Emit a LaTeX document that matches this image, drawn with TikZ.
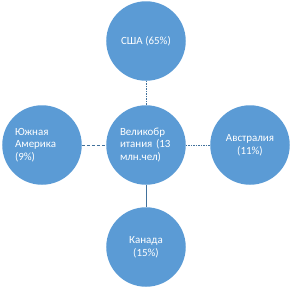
\documentclass[tikz,border=0pt]{standalone}
\usepackage{fontspec}
\setmainfont{Carlito}
\definecolor{circfill}{HTML}{5B9BD5}
\definecolor{linecol}{HTML}{41719C}
\begin{document}
\begin{tikzpicture}[x=1bp,y=-1bp,
  bubble/.style={circle,fill=circfill,draw=none,minimum size=79.5bp,inner sep=0pt,
    text=white,font=\fontsize{11}{12.8}\selectfont},
  link/.style={draw=linecol,line width=0.9bp}]
\useasboundingbox (0,0) rectangle (293,291);
\node[bubble] (usa) at (146,41) {США (65\%)};
\node[bubble,align=left,text width=52bp] (gb) at (146,145) {Великобр\\итания (13\\млн.чел)};
\node[bubble,align=left,text width=54bp] (sa) at (42,145) {Южная\\Америка\\(9\%)};
\node[bubble,align=center] (au) at (250,145) {Австралия\\(11\%)};
\node[bubble,align=center] (ca) at (146,247) {Канада\\(15\%)};
\draw[link,dash pattern=on 1.5bp off 1bp] (usa) -- (gb);
\draw[link,dash pattern=on 3bp off 2bp] (sa) -- (gb);
\draw[link,dash pattern=on 1.5bp off 1bp] (gb) -- (au);
\draw[link] (gb) -- (ca);
\end{tikzpicture}
\end{document}
